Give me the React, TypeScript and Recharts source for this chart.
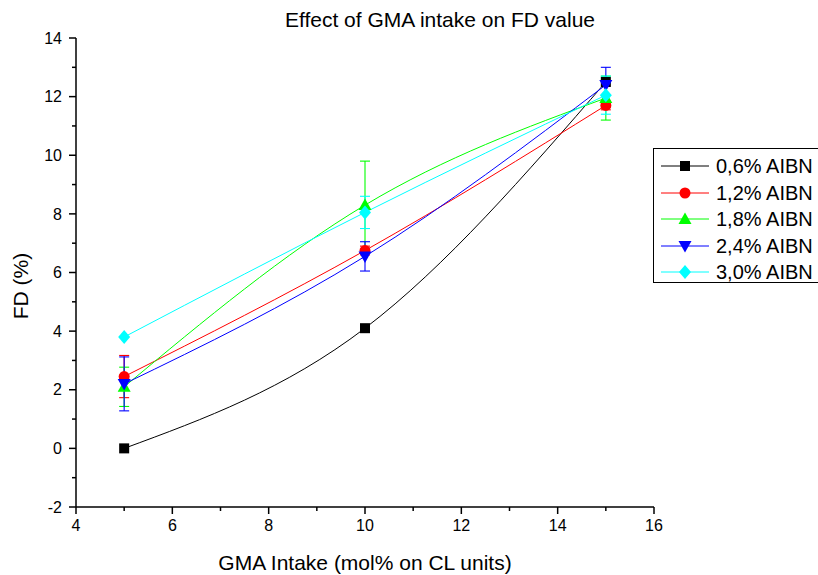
import { CartesianGrid, ErrorBar, Line, LineChart, XAxis, YAxis } from "recharts";

const gmaIntake = [5, 10, 15];
const fdAibn06 = [0, 4.1, 12.5];
const fdAibn12 = [2.45, 6.75, 11.7];
const errAibn12 = [0.72, 0.15, 0.15];
const fdAibn18 = [2.1, 8.3, 11.95];
const errAibn18 = [0.67, 1.5, 0.75];
const fdAibn24 = [2.2, 6.55, 12.4];
const errAibn24 = [0.92, 0.5, 0.6];
const fdAibn30 = [3.8, 8.05, 12.05];
const errAibn30 = [0, 0.55, 0.65];

const xTicks = [4, 5, 6, 7, 8, 9, 10, 11, 12, 13, 14, 15, 16];
const yTicks = [-2, -1, 0, 1, 2, 3, 4, 5, 6, 7, 8, 9, 10, 11, 12, 13, 14];

const FONT = '"Liberation Sans", Arial, sans-serif';

type Marker = "square" | "circle" | "triangle" | "triangleDown" | "diamond";

const series: { key: string; err?: string; name: string; color: string; marker: Marker }[] = [
  { key: "a06", name: "0,6% AIBN", color: "#000000", marker: "square" },
  { key: "a12", err: "e12", name: "1,2% AIBN", color: "#ff0000", marker: "circle" },
  { key: "a18", err: "e18", name: "1,8% AIBN", color: "#00ff00", marker: "triangle" },
  { key: "a24", err: "e24", name: "2,4% AIBN", color: "#0000ff", marker: "triangleDown" },
  { key: "a30", err: "e30", name: "3,0% AIBN", color: "#00ffff", marker: "diamond" },
];

const data = gmaIntake.map((x, i) => ({
  x,
  a06: fdAibn06[i],
  a12: fdAibn12[i],
  e12: errAibn12[i],
  a18: fdAibn18[i],
  e18: errAibn18[i],
  a24: fdAibn24[i],
  e24: errAibn24[i],
  a30: fdAibn30[i],
  e30: errAibn30[i],
}));

function markerShape(kind: Marker, cx: number, cy: number, color: string, key?: string | number) {
  switch (kind) {
    case "square":
      return <rect key={key} x={cx - 5} y={cy - 5} width={10} height={10} fill={color} />;
    case "circle":
      return <circle key={key} cx={cx} cy={cy} r={5.5} fill={color} />;
    case "triangle":
      return (
        <polygon key={key} points={`${cx},${cy - 6.5} ${cx - 6.5},${cy + 5} ${cx + 6.5},${cy + 5}`} fill={color} />
      );
    case "triangleDown":
      return (
        <polygon key={key} points={`${cx},${cy + 6.5} ${cx - 6.5},${cy - 5} ${cx + 6.5},${cy - 5}`} fill={color} />
      );
    default:
      return (
        <polygon key={key} points={`${cx},${cy - 7} ${cx + 6},${cy} ${cx},${cy + 7} ${cx - 6},${cy}`} fill={color} />
      );
  }
}

function XTick(props: any) {
  const { x, y, payload } = props;
  const major = payload.value % 2 === 0;
  return (
    <g>
      <line x1={x} x2={x} y1={y} y2={y + (major ? 7 : 4)} stroke="#000" strokeWidth={1.5} />
      {major && (
        <text x={x} y={y + 24} textAnchor="middle" fontSize={16} fontFamily={FONT} fill="#000">
          {payload.value}
        </text>
      )}
    </g>
  );
}

function YTick(props: any) {
  const { x, y, payload } = props;
  const major = payload.value % 2 === 0;
  return (
    <g>
      <line x1={x - (major ? 7 : 4)} x2={x} y1={y} y2={y} stroke="#000" strokeWidth={1.5} />
      {major && (
        <text x={x - 14} y={y + 5.7} textAnchor="end" fontSize={16} fontFamily={FONT} fill="#000">
          {payload.value}
        </text>
      )}
    </g>
  );
}

function YLabel(props: any) {
  const vb = props.viewBox;
  const cx = vb.x + 20;
  const cy = vb.y + vb.height / 2 + 13.5;
  return (
    <text
      x={cx}
      y={cy}
      transform={`rotate(-90 ${cx} ${cy})`}
      textAnchor="middle"
      dominantBaseline="central"
      fontSize={21}
      fontFamily={FONT}
      fill="#000"
    >
      FD (%)
    </text>
  );
}

export default function App() {
  return (
    <div
      style={{
        position: "absolute",
        left: 0,
        top: 0,
        width: 818,
        height: 575,
        overflow: "hidden",
        background: "#fff",
        fontFamily: FONT,
      }}
    >
      <div
        style={{
          position: "absolute",
          left: 240,
          width: 400,
          top: 8,
          textAlign: "center",
          fontSize: 21,
          lineHeight: "24px",
        }}
      >
        Effect of GMA intake on FD value
      </div>

      <LineChart width={818} height={575} data={data} margin={{ top: 38, right: 164, bottom: 0, left: 0 }}>
        <CartesianGrid stroke="none" />
        <XAxis
          dataKey="x"
          type="number"
          domain={[4, 16]}
          ticks={xTicks}
          interval={0}
          height={68}
          tickSize={0}
          tickMargin={0}
          tickLine={false}
          tick={<XTick />}
          axisLine={{ stroke: "#000", strokeWidth: 1.5 }}
          label={{
            value: "GMA Intake (mol% on CL units)",
            position: "insideBottom",
            offset: 5,
            fontSize: 21,
            fill: "#000",
            fontFamily: FONT,
          }}
        />
        <YAxis
          type="number"
          domain={[-2, 14]}
          ticks={yTicks}
          interval={0}
          width={76}
          allowDataOverflow
          tickSize={0}
          tickMargin={0}
          tickLine={false}
          tick={<YTick />}
          axisLine={{ stroke: "#000", strokeWidth: 1.5 }}
          label={<YLabel />}
        />
        {series.map((s) => (
          <Line
            key={s.key}
            dataKey={s.key}
            name={s.name}
            type="natural"
            stroke={s.color}
            strokeWidth={1}
            isAnimationActive={false}
            dot={(p: any) => markerShape(s.marker, p.cx, p.cy, s.color, p.index)}
            activeDot={false}
          >
            {s.err && <ErrorBar dataKey={s.err} direction="y" width={5} stroke={s.color} strokeWidth={1.1} />}
          </Line>
        ))}
      </LineChart>

      {/* legend box runs past the right edge of the figure */}
      <div
        style={{
          position: "absolute",
          left: 653,
          top: 148,
          width: 200,
          height: 135,
          border: "1.5px solid #000",
          background: "#fff",
          boxSizing: "border-box",
        }}
      >
        {series.map((s, i) => (
          <div
            key={s.key}
            style={{
              position: "absolute",
              left: 0,
              top: 4 + i * 26.5,
              height: 26,
              display: "flex",
              alignItems: "center",
              whiteSpace: "nowrap",
            }}
          >
            <svg width={55} height={20} style={{ marginLeft: 7, flex: "none" }}>
              <line x1={0} x2={48} y1={10} y2={10} stroke={s.color} strokeWidth={1} />
              {markerShape(s.marker, 24, 10, s.color)}
            </svg>
            <span style={{ fontSize: 20, lineHeight: "26px" }}>{s.name}</span>
          </div>
        ))}
      </div>
    </div>
  );
}
